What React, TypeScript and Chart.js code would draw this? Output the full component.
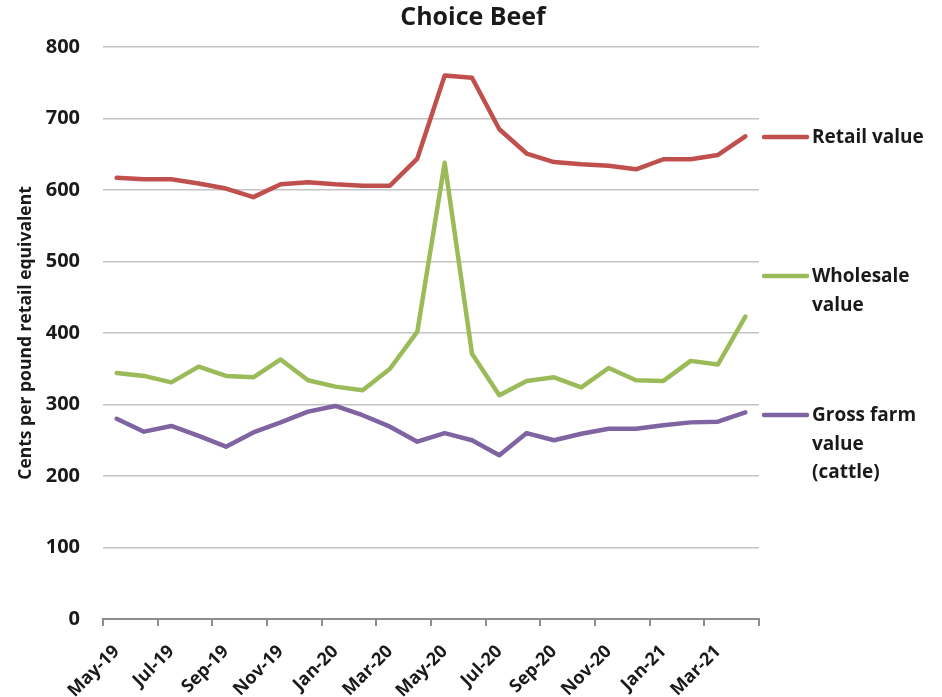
import React, { useEffect, useRef } from 'react';
import { Chart, registerables } from 'chart.js';

Chart.register(...registerables);

const months = [
  'May-19', 'Jun-19', 'Jul-19', 'Aug-19', 'Sep-19', 'Oct-19', 'Nov-19', 'Dec-19',
  'Jan-20', 'Feb-20', 'Mar-20', 'Apr-20', 'May-20', 'Jun-20', 'Jul-20', 'Aug-20',
  'Sep-20', 'Oct-20', 'Nov-20', 'Dec-20', 'Jan-21', 'Feb-21', 'Mar-21', 'Apr-21',
];

const retailValue = [
  617, 615, 615, 609, 602, 590, 608, 611, 608, 606, 606, 644,
  760, 757, 685, 651, 639, 636, 634, 629, 643, 643, 649, 675,
];

const wholesaleValue = [
  344, 340, 331, 353, 340, 338, 363, 334, 325, 320, 350, 402,
  638, 371, 313, 333, 338, 324, 351, 334, 333, 361, 356, 423,
];

const grossFarmValue = [
  280, 262, 270, 256, 241, 261, 275, 290, 298, 285, 269, 248,
  260, 250, 229, 260, 250, 259, 266, 266, 271, 275, 276, 289,
];

const seriesNames = ['Retail value', 'Wholesale value', 'Gross farm value (cattle)'];
const legendLabelLines = [['Retail value'], ['Wholesale', 'value'], ['Gross farm', 'value', '(cattle)']];
const seriesColors = ['#C0504D', '#9BBB59', '#8064A2'];

const chartTitle = 'Choice Beef';
const yAxisTitle = 'Cents per pound retail equivalent';
const yMin = 0;
const yMax = 800;
const yStep = 100;

const FONT = '"Open Sans", Lato, sans-serif';
const TEXT = '#1a1a1a';

const overlayPlugin = {
  id: 'overlay',
  afterDraw(chart: any) {
    const ctx = chart.ctx;
    const area = chart.chartArea;
    ctx.save();
    // title
    ctx.fillStyle = TEXT;
    ctx.font = `bold 25px ${FONT}`;
    ctx.textAlign = 'center';
    ctx.textBaseline = 'middle';
    ctx.fillText(chartTitle, chart.width / 2 + 2, 18);

    // legend
    const offsets = [90, 229, 368];
    const lineH = 28.5;
    ctx.font = `bold 19px ${FONT}`;
    ctx.textAlign = 'left';
    legendLabelLines.forEach((lines, i) => {
      const y = area.top + offsets[i];
      ctx.strokeStyle = seriesColors[i];
      ctx.lineWidth = 4.5;
      ctx.lineCap = 'round';
      ctx.beginPath();
      ctx.moveTo(area.right + 5, y);
      ctx.lineTo(area.right + 48, y);
      ctx.stroke();
      ctx.fillStyle = TEXT;
      lines.forEach((t, j) => {
        ctx.fillText(t, area.right + 53, y + j * lineH + 1);
      });
    });
    ctx.restore();
  },
};

export default function App() {
  const canvasRef = useRef<HTMLCanvasElement | null>(null);

  useEffect(() => {
    if (!canvasRef.current) return;
    const seriesData = [retailValue, wholesaleValue, grossFarmValue];
    const chart = new Chart(canvasRef.current, {
      type: 'line',
      data: {
        labels: months,
        datasets: seriesData.map((d, i) => ({
          label: seriesNames[i],
          data: d,
          borderColor: seriesColors[i],
          backgroundColor: seriesColors[i],
          borderWidth: 4.5,
          pointRadius: 0,
          pointHoverRadius: 0,
          tension: 0,
          borderJoinStyle: 'round' as const,
          borderCapStyle: 'round' as const,
          fill: false,
        })),
      },
      options: {
        animation: false,
        responsive: false,
        maintainAspectRatio: false,
        layout: { padding: { top: 47, right: 183, left: 0, bottom: 0 } },
        plugins: {
          legend: { display: false },
          title: { display: false },
          tooltip: { enabled: false },
        },
        scales: {
          x: {
            type: 'category',
            offset: true,
            afterFit: (scale: any) => {
              scale.height = 78;
            },
            grid: {
              offset: true,
              drawOnChartArea: false,
              drawTicks: true,
              tickLength: 7,
              color: (c: any) => (c.index === undefined || c.index % 2 === 0 ? '#8c8c8c' : 'rgba(0,0,0,0)'),
              lineWidth: 2,
              tickWidth: 2,
            },
            border: { display: true, color: '#8c8c8c', width: 2 },
            ticks: {
              autoSkip: false,
              minRotation: 45,
              maxRotation: 45,
              padding: 15,
              color: TEXT,
              font: { family: FONT, size: 18, weight: 'bold' },
              callback: (_v: any, i: number) => (i % 2 === 0 ? months[i] : ''),
            },
          },
          y: {
            min: yMin,
            max: yMax,
            afterFit: (scale: any) => {
              scale.width = 103;
            },
            border: { display: false },
            grid: {
              drawTicks: false,
              color: (c: any) => (c.tick && c.tick.value === 0 ? 'rgba(0,0,0,0)' : '#c4c4c4'),
              lineWidth: 1.5,
            },
            ticks: {
              stepSize: yStep,
              padding: 23,
              color: TEXT,
              font: { family: FONT, size: 20, weight: 'bold' },
            },
            title: {
              display: true,
              text: yAxisTitle,
              color: TEXT,
              font: { family: FONT, size: 17.5, weight: 'bold' },
              padding: { top: 16, bottom: 0 },
            },
          },
        },
      },
      plugins: [overlayPlugin],
    });
    return () => chart.destroy();
  }, []);

  return (
    <div style={{ position: 'fixed', left: 0, top: 0, width: 942, height: 697, background: '#fff' }}>
      <canvas ref={canvasRef} width={942} height={697} style={{ width: 942, height: 697, display: 'block' }} />
    </div>
  );
}
